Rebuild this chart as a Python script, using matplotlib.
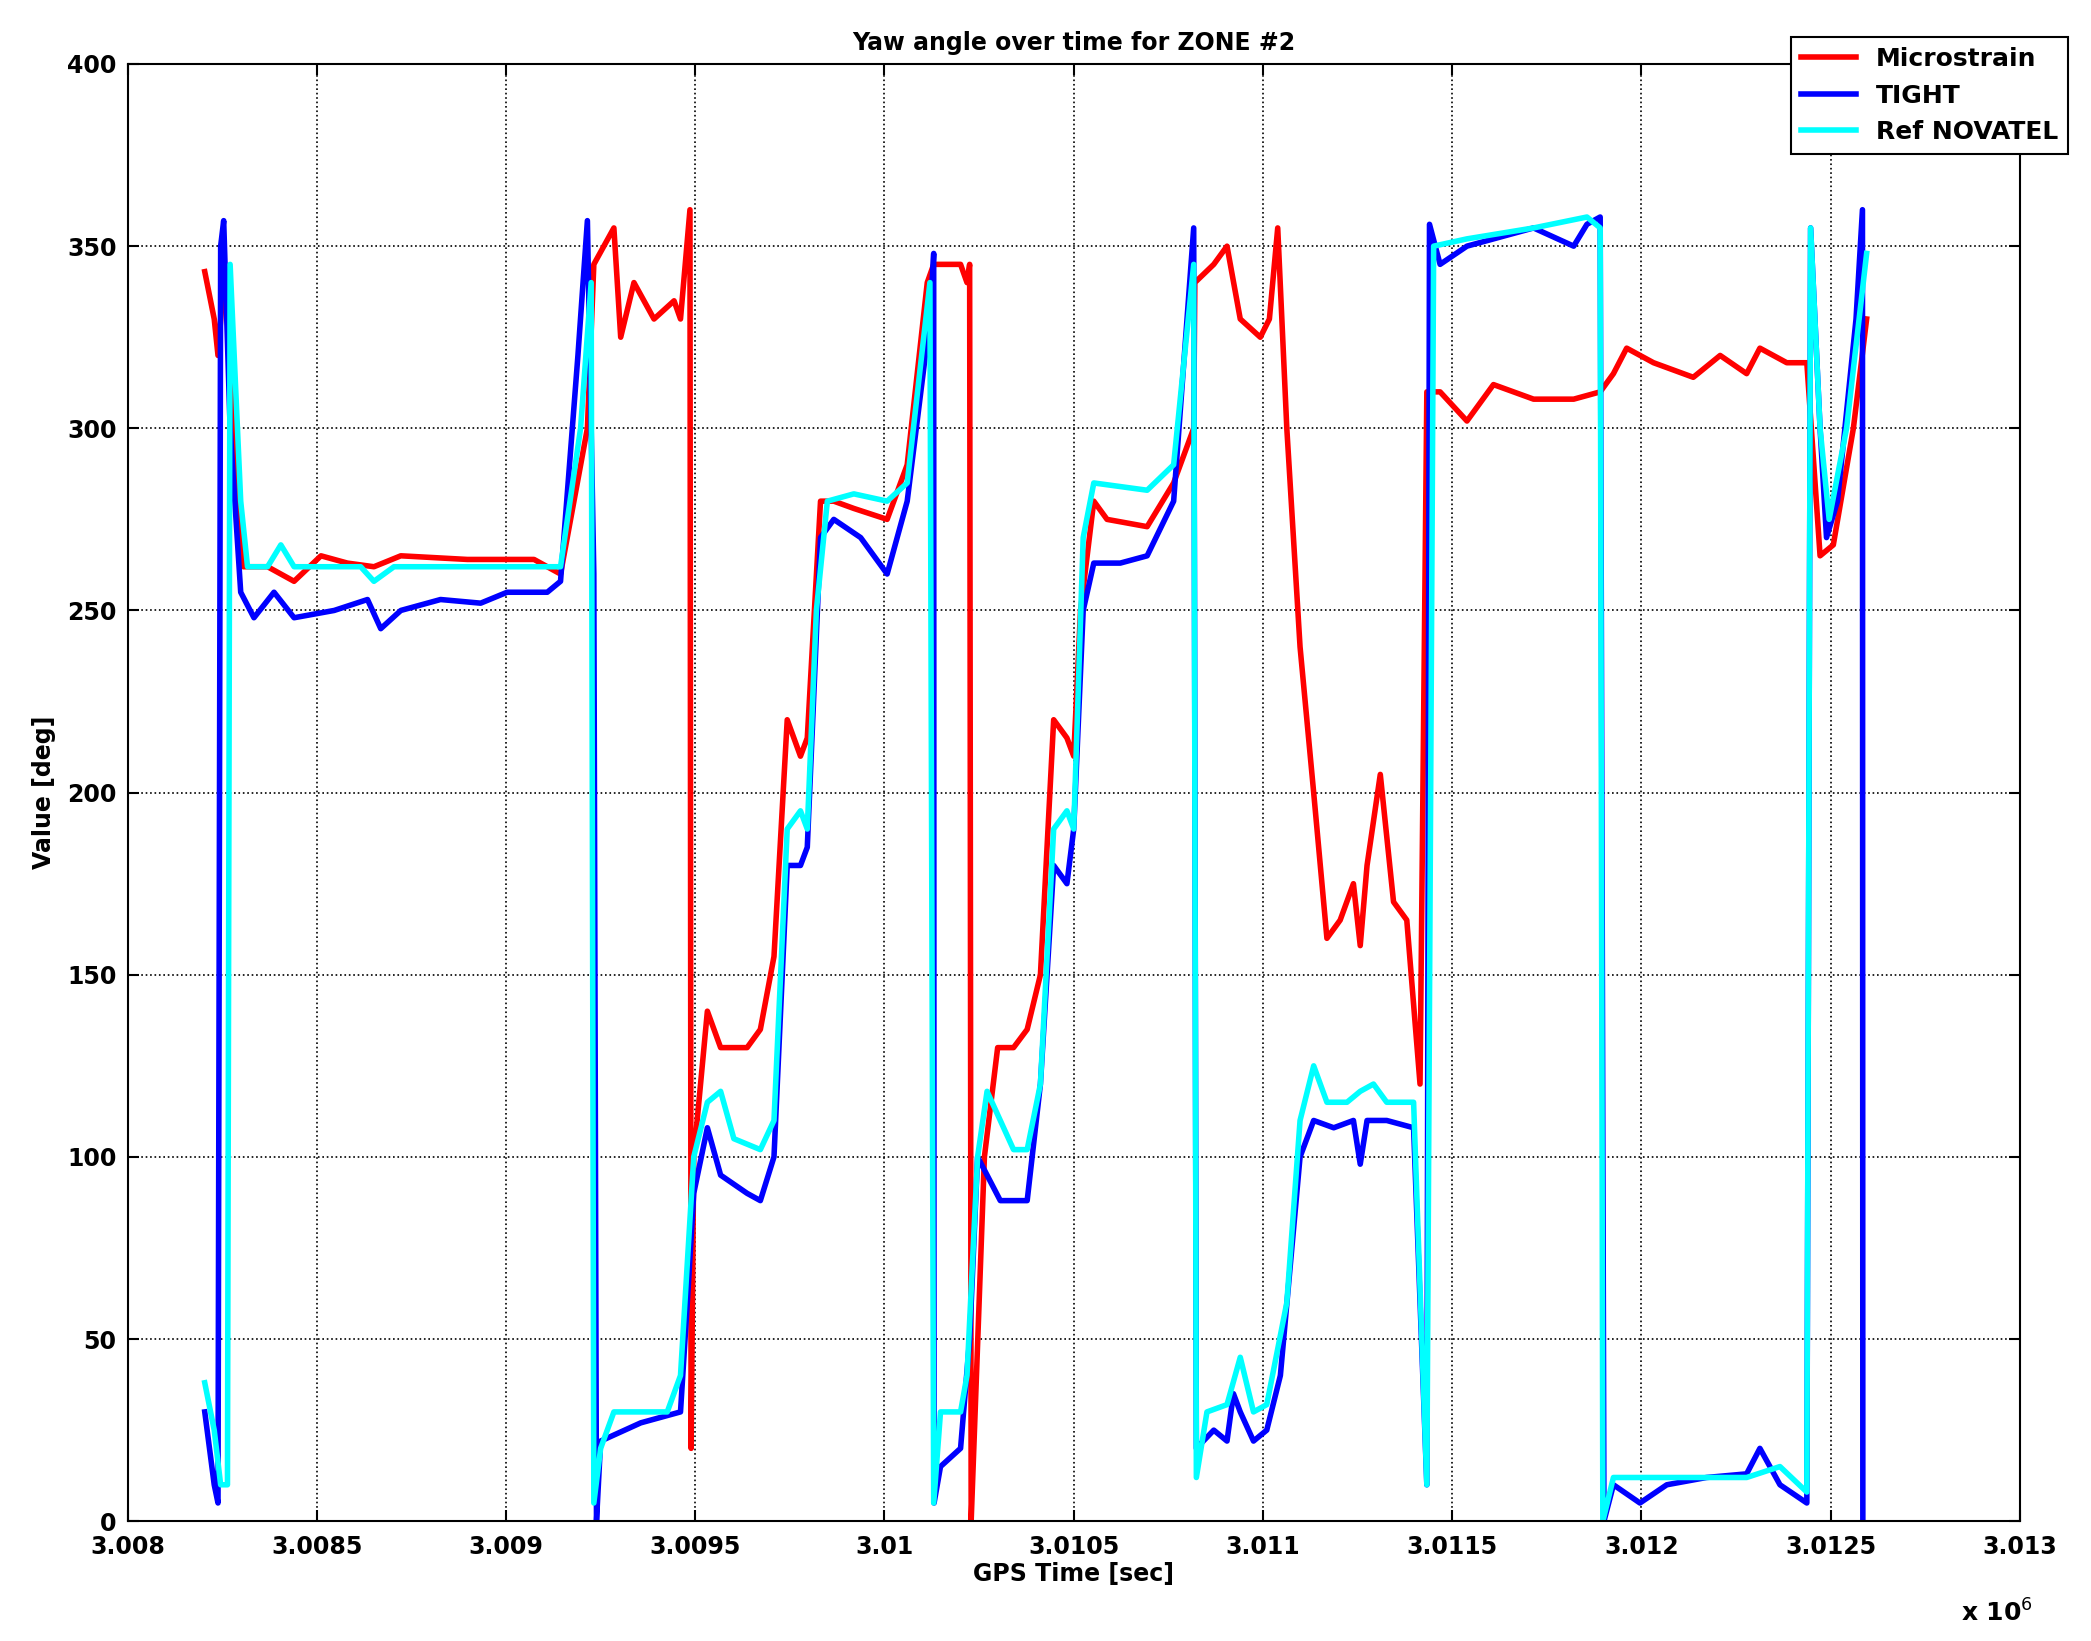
import numpy as np
import matplotlib.pyplot as plt

T0 = 3008000  # GPS start reference [sec]

# Microstrain yaw (time offset from T0 [s], angle [deg])
red_t = [204, 229, 239, 257, 282, 306, 370, 440, 511, 581, 651, 722, 898, 1074, 1144, 1215, 1232, 1285,
         1303, 1338, 1391, 1444, 1461, 1486, 1489, 1496, 1532, 1567, 1637, 1672, 1708, 1743, 1778, 1796,
         1831, 1866, 1919, 2007, 2060, 2113, 2130, 2201, 2218, 2225, 2229, 2236, 2264, 2299, 2341, 2377,
         2412, 2447, 2482, 2500, 2518, 2553, 2588, 2694, 2764, 2817, 2820, 2870, 2905, 2940, 2993, 3017,
         3039, 3063, 3098, 3134, 3169, 3204, 3239, 3257, 3275, 3310, 3345, 3380, 3415, 3433, 3468, 3539,
         3609, 3715, 3821, 3891, 3926, 3961, 4032, 4137, 4208, 4278, 4313, 4384, 4437, 4472, 4507, 4560, 4595]
red_v = [343, 330, 320, 345, 300, 262, 262, 258, 265, 263, 262, 265, 264, 264, 260, 300, 345, 355,
         325, 340, 330, 335, 330, 360, 20, 100, 140, 130, 130, 135, 155, 220, 210, 215,
         280, 280, 278, 275, 290, 340, 345, 345, 340, 345, 0, 20, 100, 130, 130, 135,
         150, 220, 215, 210, 250, 280, 275, 273, 285, 300, 340, 345, 350, 330, 325, 330,
         355, 300, 240, 200, 160, 165, 175, 158, 180, 205, 170, 165, 120, 310, 310, 302,
         312, 308, 308, 310, 315, 322, 318, 314, 320, 315, 322, 318, 318, 265, 268, 300, 330]

# TIGHT yaw
blue_t = [204, 229, 239, 246, 254, 271, 299, 334, 387, 440, 546, 634, 669, 722, 827, 933, 1003, 1109,
          1144, 1190, 1215, 1232, 1239, 1250, 1356, 1461, 1479, 1496, 1532, 1567, 1637, 1672, 1708, 1743,
          1778, 1796, 1831, 1866, 1937, 2007, 2060, 2120, 2130, 2131, 2148, 2201, 2225, 2246, 2271, 2306,
          2377, 2412, 2447, 2482, 2500, 2525, 2553, 2623, 2694, 2764, 2817, 2824, 2870, 2905, 2922, 2940,
          2975, 3010, 3046, 3098, 3134, 3187, 3239, 3257, 3275, 3327, 3398, 3433, 3440, 3468, 3539, 3715,
          3821, 3856, 3891, 3901, 3926, 3996, 4067, 4172, 4278, 4313, 4366, 4437, 4447, 4472, 4489, 4518,
          4567, 4584, 4585]
blue_v = [30, 10, 5, 350, 357, 300, 255, 248, 255, 248, 250, 253, 245, 250, 253, 252, 255, 255,
          258, 320, 357, 260, 0, 22, 27, 30, 60, 90, 108, 95, 90, 88, 100, 180,
          180, 185, 270, 275, 270, 260, 280, 330, 348, 5, 15, 20, 50, 100, 95, 88,
          88, 120, 180, 175, 190, 250, 263, 263, 265, 280, 355, 20, 25, 22, 35, 30,
          22, 25, 40, 100, 110, 108, 110, 98, 110, 110, 108, 10, 356, 345, 350, 355,
          350, 356, 358, 0, 10, 5, 10, 12, 13, 20, 10, 5, 355, 300, 270, 280,
          330, 360, 0]

# Ref NOVATEL yaw
cyan_t = [204, 229, 246, 264, 271, 299, 317, 370, 405, 440, 616, 651, 704, 792, 1074, 1144, 1197, 1225,
          1232, 1250, 1285, 1426, 1461, 1496, 1532, 1567, 1602, 1672, 1708, 1743, 1778, 1796, 1820, 1849,
          1919, 2007, 2060, 2120, 2130, 2148, 2201, 2218, 2246, 2271, 2306, 2341, 2377, 2412, 2447, 2482,
          2500, 2525, 2553, 2694, 2764, 2817, 2824, 2852, 2905, 2940, 2975, 3010, 3063, 3098, 3134, 3169,
          3222, 3257, 3292, 3327, 3398, 3433, 3451, 3539, 3715, 3856, 3891, 3898, 3926, 4067, 4172, 4278,
          4366, 4437, 4447, 4472, 4496, 4542, 4595]
cyan_v = [38, 25, 10, 10, 345, 280, 262, 262, 268, 262, 262, 258, 262, 262, 262, 262, 300, 340,
          5, 20, 30, 30, 40, 100, 115, 118, 105, 102, 110, 190, 195, 190, 250, 280,
          282, 280, 285, 340, 5, 30, 30, 40, 100, 118, 110, 102, 102, 120, 190, 195,
          190, 270, 285, 283, 290, 345, 12, 30, 32, 45, 30, 32, 60, 110, 125, 115,
          115, 118, 120, 115, 115, 10, 350, 352, 355, 358, 355, 0, 12, 12, 12, 12,
          15, 8, 355, 300, 275, 300, 348]

fig = plt.figure(figsize=(20.91, 16.41), dpi=100)
ax = fig.add_axes([0.061, 0.073, 0.905, 0.888])

ax.plot(T0 + np.array(red_t), red_v, color='red', lw=4, label='Microstrain')
ax.plot(T0 + np.array(blue_t), blue_v, color='blue', lw=4, label='TIGHT')
ax.plot(T0 + np.array(cyan_t), cyan_v, color='cyan', lw=4, label='Ref NOVATEL')

xticks = np.arange(3008000, 3013001, 500)
ax.set_xlim(3008000, 3013000)
ax.set_ylim(0, 400)
ax.set_xticks(xticks)
ax.set_xticklabels([('%.4f' % (x / 1e6)).rstrip('0').rstrip('.') for x in xticks])
ax.set_yticks(np.arange(0, 401, 50))
ax.tick_params(labelsize=17, direction='in', length=8, width=1.5, top=True, right=True)
ax.tick_params(axis='x', pad=10)
ax.tick_params(axis='y', pad=8)
for lab in ax.get_xticklabels() + ax.get_yticklabels():
    lab.set_fontweight('bold')
ax.grid(True, color='black', linestyle=':', linewidth=1.2)
for s in ax.spines.values():
    s.set_linewidth(1.5)

ax.set_title('Yaw angle over time for ZONE #2', fontsize=17, fontweight='bold', pad=10)
ax.set_xlabel('GPS Time [sec]', fontsize=17, fontweight='bold', labelpad=2)
ax.set_ylabel('Value [deg]', fontsize=17, fontweight='bold', labelpad=8)
fig.text(0.955, 0.012, r'x 10$^6$', fontsize=18, fontweight='bold', ha='center')

leg = fig.legend(loc='upper right', bbox_to_anchor=(0.995, 0.985), prop={'weight': 'bold', 'size': 18},
                 fancybox=False, edgecolor='black', framealpha=1, handlelength=2.2, borderpad=0.4)
leg.get_frame().set_linewidth(1.5)

fig.savefig('out.png', dpi=100)
